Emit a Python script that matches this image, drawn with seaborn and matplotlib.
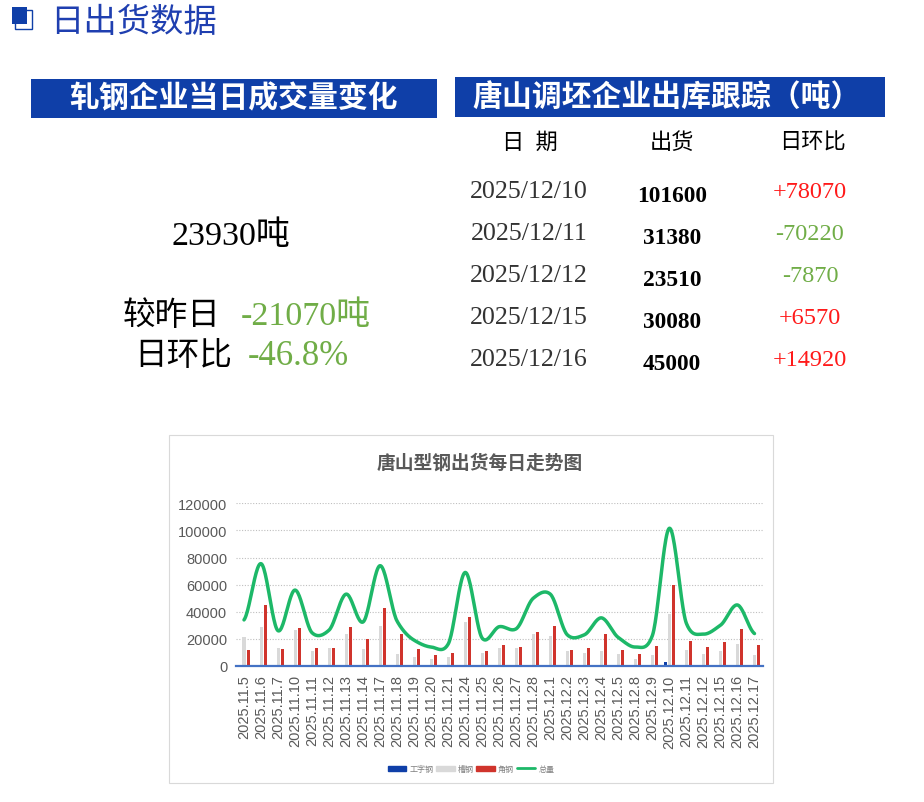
import numpy as np
import pandas as pd
import matplotlib
matplotlib.use("Agg")
import matplotlib.pyplot as plt
from matplotlib.lines import Line2D
from matplotlib.patches import Patch, Rectangle
import seaborn as sns

dates = ['2025.11.5', '2025.11.6', '2025.11.7', '2025.11.10', '2025.11.11', '2025.11.12', '2025.11.13', '2025.11.14',
         '2025.11.17', '2025.11.18', '2025.11.19', '2025.11.20', '2025.11.21', '2025.11.24', '2025.11.25', '2025.11.26',
         '2025.11.27', '2025.11.28', '2025.12.1', '2025.12.2', '2025.12.3', '2025.12.4', '2025.12.5', '2025.12.8',
         '2025.12.9', '2025.12.10', '2025.12.11', '2025.12.12', '2025.12.15', '2025.12.16', '2025.12.17']
ibeam = [0, 0, 0, 0, 0, 0, 0, 0, 0, 0, 0, 0, 0, 0, 0, 0, 0, 0, 0, 0, 0, 0, 0, 0, 0, 3000, 0, 0, 0, 0, 0]
channel = [21400, 28800, 13300, 26500, 11000, 13300, 23600, 12500, 29500, 8800, 6600, 5200, 6600, 32500, 9600, 13300,
           13300, 23600, 22100, 11000, 9600, 11000, 8800, 5200, 8100, 38400, 11800, 8800, 11000, 16200, 8100]
angle = [11800, 45000, 12500, 28000, 13300, 13300, 28800, 20000, 42800, 23600, 12500, 8100, 9600, 36100, 11000, 15500,
         14000, 25000, 29500, 11800, 13300, 23600, 11800, 8800, 14700, 59800, 18400, 14000, 17700, 27300, 15500]
total = [34000, 75500, 26000, 56000, 24500, 26500, 53000, 32500, 74000, 33000, 19000, 14000, 16200, 69000, 20500, 29000,
         27500, 50000, 53000, 23000, 23000, 35500, 21000, 14000, 22500, 101600, 31380, 23510, 30080, 45000, 23930]

table_dates = ['2025/12/10', '2025/12/11', '2025/12/12', '2025/12/15', '2025/12/16']
table_ship = ['101600', '31380', '23510', '30080', '45000']
table_change = ['+78070', '-70220', '-7870', '+6570', '+14920']

W, H = 924, 803
BLUE = '#0F3FA8'
GREEN = '#70AD47'
RED = '#FF1A1A'
SERIF = ['Liberation Serif', 'Noto Sans CJK SC']
SANS = ['Liberation Sans', 'Noto Sans CJK SC']

sns.set_style('white')
plt.rcParams['font.family'] = SANS

fig = plt.figure(figsize=(W / 100, H / 100), dpi=100)

# page layer in pixel coordinates
bg = fig.add_axes([0, 0, 1, 1])
bg.set_xlim(0, W)
bg.set_ylim(H, 0)
bg.axis('off')


def txt(x, y, s, size, color='black', ha='center', weight='normal', family=SERIF):
    bg.text(x, y, s, fontsize=size, color=color, ha=ha, va='center', fontweight=weight, family=family)


bg.add_patch(Rectangle((15, 11), 17, 19, fill=False, ec=BLUE, lw=1))
bg.add_patch(Rectangle((12, 8), 15, 17, fc=BLUE, ec='none'))
txt(50, 23, '日出货数据', 24, '#1F3FB0', ha='left')

bg.add_patch(Rectangle((31, 79.5), 406, 39, fc=BLUE, ec='none'))
bg.add_patch(Rectangle((455, 77.5), 430, 40, fc=BLUE, ec='none'))
txt(234, 99, '轧钢企业当日成交量变化', 21.5, 'white', weight='bold')
txt(667, 98, '唐山调坯企业出库跟踪（吨）', 21.5, 'white', weight='bold')

txt(231, 237, '23930吨', 24.5)
txt(172, 317, '较昨日', 23.5)
txt(306, 317, '-21070吨', 24.5, GREEN)
txt(183, 357, '日环比', 23.5)
txt(298, 357, '-46.8%', 25, GREEN)

txt(530, 144, '日  期', 16)
txt(672, 144, '出货', 16)
txt(812, 144, '日环比', 16)
for i, (d, s, c) in enumerate(zip(table_dates, table_ship, table_change)):
    y = 192.5 + 42 * i
    txt(529, y, d, 18.7, '#333333')
    txt(672, y + 4, s, 16.8, weight='bold')
    txt(810, y, c, 17.5, RED if c[0] == '+' else GREEN)

bg.add_patch(Rectangle((169, 436), 604, 348, fill=False, ec='#D9D9D9', lw=0.8))
txt(480, 463, '唐山型钢出货每日走势图', 13.5, '#595959', weight='bold', family=SANS)

# chart layer
left, right, top, bottom = 235.5, 763, 504.3, 667
ax = fig.add_axes([left / W, 1 - bottom / H, (right - left) / W, (bottom - top) / H])
ax.patch.set_alpha(0)

df = pd.DataFrame({'date': dates, '工字钢': ibeam, '槽钢': channel, '角钢': angle})
long_df = df.melt(id_vars='date', var_name='kind', value_name='value')
bar_colors = {'工字钢': BLUE, '槽钢': '#D9D9D9', '角钢': '#D0342C'}
sns.barplot(data=long_df, x='date', y='value', hue='kind', palette=bar_colors, order=dates,
            width=0.71, gap=0.25, legend=False, ax=ax, saturation=1, zorder=2, linewidth=0)


# Excel style smoothed line drawn from the totals
def smooth(vals, n=24):
    p = np.array(vals, dtype=float)
    p = np.concatenate([[p[0]], p, [p[-1]]])
    xs, ys = [], []
    for i in range(1, len(p) - 2):
        t = np.linspace(0, 1, n, endpoint=False)
        m1 = (p[i + 1] - p[i - 1]) * 0.4
        m2 = (p[i + 2] - p[i]) * 0.4
        ys.append((2*t**3 - 3*t**2 + 1) * p[i] + (t**3 - 2*t**2 + t) * m1
                  + (-2*t**3 + 3*t**2) * p[i + 1] + (t**3 - t**2) * m2)
        xs.append(i - 1 + t)
    return np.append(np.concatenate(xs), len(vals) - 1), np.append(np.concatenate(ys), p[-1])


sx, sy = smooth(total)
sns.lineplot(x=sx, y=sy, color='#1DB868', lw=2.5, ax=ax, zorder=3, solid_capstyle='round')

ax.set_xlim(-0.5, len(dates) - 0.5)
ax.set_ylim(0, 120000)
ax.set_yticks(range(0, 120001, 20000))
ax.set_xlabel('')
ax.set_ylabel('')
ax.grid(axis='y', color='#BFBFBF', ls=(0, (1, 1.5)), lw=0.8, zorder=0)
ax.set_axisbelow(True)
sns.despine(ax=ax, left=True)
ax.spines['bottom'].set_color('#4472C4')
ax.spines['bottom'].set_linewidth(1.6)
ax.spines['bottom'].set_zorder(4)
ax.tick_params(axis='both', length=0, labelcolor='#595959', labelsize=10.5)
ax.tick_params(axis='x', rotation=90, pad=6)
ax.tick_params(axis='y', pad=6)

handles = [Patch(color=BLUE, label='工字钢'), Patch(color='#D9D9D9', label='槽钢'), Patch(color='#D0342C', label='角钢'),
           Line2D([], [], color='#1DB868', lw=2, label='总量')]
fig.legend(handles=handles, loc='center', bbox_to_anchor=(471 / W, 1 - 770 / H), ncol=4, frameon=False, fontsize=5.8,
           labelcolor='#7F7F7F', handlelength=2.3, handleheight=0.6, handletextpad=0.36, columnspacing=0.36)

fig.savefig('out.png', dpi=100)
